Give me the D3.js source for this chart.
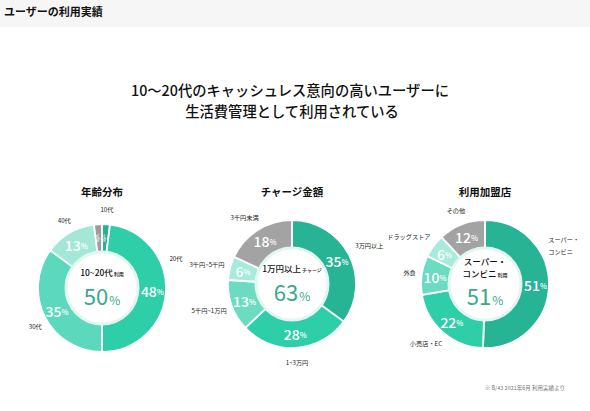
<!DOCTYPE html>
<html>
<head>
<meta charset="utf-8">
<script src="https://d3js.org/d3.v7.min.js"></script>
<style>
  body { margin: 0; background: #fff; font-family: "Noto Sans CJK JP", "Noto Sans", sans-serif; }
  svg text { font-family: "Noto Sans CJK JP", "Noto Sans", sans-serif; }
</style>
</head>
<body>
<svg id="chart" width="590" height="411"></svg>
<script>
// ---- data ----
const ageLabels = ["10代", "20代", "30代", "40代", ""];
const ageValues = [2, 48, 35, 13, 2];
const ageColors = ["#27b293", "#2ecfa8", "#5cd8bd", "#a3e7d7", "#9c9c9c"];

const chargeLabels = ["3万円以上", "1~3万円", "5千円~1万円", "3千円~5千円", "3千円未満"];
const chargeValues = [35, 28, 13, 6, 18];
const chargeColors = ["#27b494", "#2ecfa8", "#6bdcc2", "#a6ebdb", "#a3a3a3"];

const shopLabels = [["スーパー・", "コンビニ"], ["小売店・EC"], ["外食"], ["ドラッグストア"], ["その他"]];
const shopValues = [51, 22, 10, 6, 12];
const shopColors = ["#27b494", "#2ecfa8", "#6bdcc2", "#a6ebdb", "#a3a3a3"];

const charts = [
  { title: "年齢分布", labels: ageLabels.map(d => [d]), values: ageValues, colors: ageColors,
    center: [["10~20代", "利用"]], big: "50", cx: 102, cy: 288 },
  { title: "チャージ金額", labels: chargeLabels.map(d => [d]), values: chargeValues, colors: chargeColors,
    center: [["1万円以上", "チャージ"]], big: "63", cx: 292, cy: 284 },
  { title: "利用加盟店", labels: shopLabels, values: shopValues, colors: shopColors,
    center: [["スーパー・", ""], ["コンビニ", "利用"]], big: "51", cx: 485, cy: 284 }
];

const svg = d3.select("#chart");

// header band
svg.append("rect").attr("x", 0).attr("y", 0).attr("width", 590).attr("height", 27).attr("fill", "#f6f6f6");
svg.append("text").attr("x", 4).attr("y", 16).attr("font-size", 11).attr("font-weight", 700)
  .attr("fill", "#111").text("ユーザーの利用実績");

// main title
svg.append("text").attr("x", 290).attr("y", 96).attr("text-anchor", "middle")
  .attr("font-size", 14.3).attr("font-weight", 500).attr("fill", "#111")
  .text("10～20代のキャッシュレス意向の高いユーザーに");
svg.append("text").attr("x", 292).attr("y", 117).attr("text-anchor", "middle")
  .attr("font-size", 14.3).attr("font-weight", 500).attr("fill", "#111")
  .text("生活費管理として利用されている");

const rOut = 64, rIn = 35;
const arc = d3.arc().innerRadius(rIn).outerRadius(rOut);
const pie = d3.pie().sort(null).value(d => d);

charts.forEach(c => {
  const g = svg.append("g").attr("transform", `translate(${c.cx},${c.cy})`);

  svg.append("text").attr("x", c.cx).attr("y", 196).attr("text-anchor", "middle")
    .attr("font-size", 10.5).attr("font-weight", 700).attr("fill", "#111").text(c.title);

  const arcs = pie(c.values);

  g.selectAll("path.slice").data(arcs).enter().append("path")
    .attr("class", "slice")
    .attr("d", arc)
    .attr("fill", (d, i) => c.colors[i])
    .attr("stroke", "#fff").attr("stroke-width", 1.8);

  // soft ring round the hole
  g.append("circle").attr("r", rIn + 1).attr("fill", "#fff")
    .attr("stroke", "#e3f6f0").attr("stroke-width", 3);

  // percentages inside the ring
  const rMid = (rIn + rOut) / 2 + 1;
  arcs.forEach((d, i) => {
    const a = (d.startAngle + d.endAngle) / 2;
    const x = rMid * Math.sin(a), y = -rMid * Math.cos(a);
    const small = d.value < 5;
    const t = g.append("text")
      .attr("text-anchor", "middle").attr("dominant-baseline", "central")
      .attr("fill", "#fff").attr("font-weight", 500);
    if (small) {
      t.attr("transform", `translate(${x},${y}) rotate(70)`).attr("font-size", 5);
      t.append("tspan").text(d.value + "%");
    } else {
      t.attr("x", x).attr("y", y).attr("font-size", 14);
      t.append("tspan").text(d.value);
      t.append("tspan").attr("font-size", 7.5).text("%");
    }
  });

  // outer labels
  arcs.forEach((d, i) => {
    const lines = c.labels[i];
    if (!lines[0]) return;
    const span = d.endAngle - d.startAngle;
    const a = d.startAngle + Math.min(span / 2, 0.17 * 2 * Math.PI);
    const R = rOut + 15;
    const s = Math.sin(a);
    const x = R * s, y = -R * Math.cos(a);
    const anchor = s > 0.35 ? "start" : (s < -0.35 ? "end" : "middle");
    lines.forEach((ln, k) => {
      g.append("text")
        .attr("x", x + (anchor === "start" ? -6 : anchor === "end" ? 9 : 0))
        .attr("y", y + (k - (lines.length - 1) / 2) * 12)
        .attr("text-anchor", anchor).attr("dominant-baseline", "central")
        .attr("font-size", 6.2).attr("fill", "#222").text(ln);
    });
  });

  // centre text
  const n = c.center.length;
  c.center.forEach((ln, k) => {
    const t = g.append("text").attr("text-anchor", "middle")
      .attr("y", (n === 1 ? -12 : -19 + k * 12))
      .attr("font-size", 8.5).attr("font-weight", 500).attr("fill", "#111");
    t.append("tspan").text(ln[0]);
    if (ln[1]) t.append("tspan").attr("font-size", 5).attr("dx", 1).text(ln[1]);
  });
  const big = g.append("text").attr("text-anchor", "middle").attr("y", n === 1 ? 17 : 21)
    .attr("fill", "#37a98c");
  big.append("tspan").attr("font-size", 22).text(c.big);
  big.append("tspan").attr("font-size", 12).attr("dx", 1).text("%");
});

// footnote
svg.append("text").attr("x", 565).attr("y", 390).attr("text-anchor", "end")
  .attr("font-size", 5.5).attr("fill", "#777").text("※ B/43 2021年6月 利用実績より");
</script>
</body>
</html>
